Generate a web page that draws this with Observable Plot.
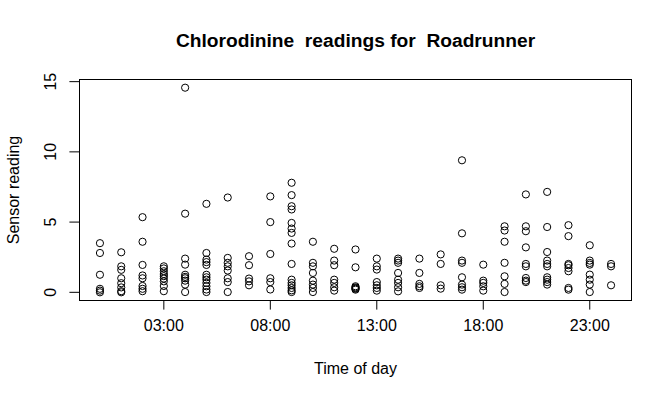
<!DOCTYPE html>
<html>
<head>
<meta charset="utf-8">
<script src="https://cdn.jsdelivr.net/npm/d3@7"></script>
<script src="https://cdn.jsdelivr.net/npm/@observablehq/plot@0.6"></script>
<style>
  html, body { margin: 0; padding: 0; background: #fff; }
  svg text { white-space: pre; }
</style>
</head>
<body>
<div id="chart"></div>
<script>
const title = "Chlorodinine  readings for  Roadrunner";
const xLabel = "Time of day";
const yLabel = "Sensor reading";
const xTicks = [3, 8, 13, 18, 23];
const xTickLabels = ["03:00", "08:00", "13:00", "18:00", "23:00"];
const yTicks = [0, 5, 10, 15];

const hours = [0, 1, 2, 3, 4, 5, 6, 7, 8, 9, 10, 11, 12, 13, 14, 15, 16, 17, 18, 19, 20, 21, 22, 23, 24];
const readings = [
  [3.5, 2.8, 1.25, 0.25, 0.12, 0.0],
  [2.85, 1.85, 1.6, 1.0, 0.65, 0.35, 0.08, 0.0],
  [5.35, 3.6, 1.95, 1.2, 1.0, 0.45, 0.25, 0.08],
  [1.85, 1.7, 1.5, 1.3, 1.15, 0.98, 0.78, 0.45, 0.08],
  [14.57, 5.6, 2.4, 1.97, 1.25, 1.1, 1.0, 0.83, 0.55, 0.02],
  [6.3, 2.8, 2.33, 2.15, 1.95, 1.25, 1.07, 0.9, 0.67, 0.43, 0.2, 0.02],
  [6.75, 2.45, 2.1, 1.85, 1.55, 1.0, 0.73, 0.02],
  [2.57, 1.93, 0.98, 0.78, 0.5],
  [6.83, 5.0, 2.73, 1.0, 0.73, 0.2],
  [7.8, 6.92, 6.13, 5.9, 4.94, 4.54, 4.23, 3.47, 2.02, 0.9, 0.67, 0.5, 0.31, 0.14, 0.02],
  [3.6, 2.1, 1.85, 1.38, 0.83, 0.55, 0.31, 0.02],
  [3.1, 2.26, 1.93, 0.9, 0.67, 0.36, 0.12],
  [3.05, 1.78, 0.43, 0.35, 0.3, 0.25, 0.19],
  [2.4, 1.85, 1.62, 0.73, 0.5, 0.31, 0.12],
  [2.4, 2.26, 2.1, 1.38, 0.9, 0.67, 0.36, 0.07],
  [2.4, 1.38, 0.6, 0.43, 0.31],
  [2.7, 2.02, 0.5, 0.26],
  [9.4, 4.2, 2.26, 2.1, 1.07, 0.55, 0.36, 0.19],
  [1.97, 0.83, 0.67, 0.43, 0.12],
  [4.7, 4.4, 3.6, 2.1, 1.14, 0.6, 0.02],
  [6.97, 4.7, 4.35, 3.2, 2.02, 1.85, 1.02, 0.83, 0.73],
  [7.15, 4.65, 2.87, 2.26, 2.02, 1.85, 1.07, 0.9, 0.73, 0.55],
  [4.78, 4.0, 2.02, 1.93, 1.73, 1.5, 0.31, 0.19],
  [3.35, 2.26, 2.09, 1.97, 1.26, 0.9, 0.55, 0.02],
  [2.02, 1.85, 0.5]
];

const data = hours.flatMap((h, i) => readings[i].map(v => ({hour: h, value: v})));

function pad(ext) { const r = ext[1] - ext[0]; return [ext[0] - 0.04 * r, ext[1] + 0.04 * r]; }
const xDomain = pad(d3.extent(data, d => d.hour));
const yDomain = pad(d3.extent(data, d => d.value));

const font = "'Liberation Sans', Arial, Helvetica, sans-serif";

const chart = Plot.plot({
  width: 671,
  height: 398,
  marginLeft: 79,
  marginRight: 40,
  marginTop: 79,
  marginBottom: 98,
  style: {fontFamily: font, fontSize: "16px", background: "#fff", color: "#000"},
  x: {domain: xDomain},
  y: {domain: yDomain},
  marks: [
    Plot.frame({stroke: "#000", strokeWidth: 1}),
    Plot.dot(data, {x: "hour", y: "value", r: 3.6, stroke: "#000", strokeWidth: 1, fill: "none"}),
    Plot.axisX({ticks: xTicks, tickFormat: (d) => xTickLabels[xTicks.indexOf(d)], tickSize: 9.6, tickPadding: 10, fontSize: 16, label: null, stroke: "#000"}),
    Plot.axisY({ticks: yTicks, tickFormat: () => "", tickSize: 9.6, label: null, stroke: "#000"}),
    Plot.text(yTicks, {y: d => d, text: d => String(d), frameAnchor: "left", dx: -29, rotate: -90, textAnchor: "middle", lineAnchor: "middle", fontSize: 16, fill: "#000"}),
    Plot.text([yLabel], {text: d => d, frameAnchor: "left", dx: -66, rotate: -90, textAnchor: "middle", lineAnchor: "middle", fontSize: 16, fill: "#000"}),
    Plot.text([xLabel], {text: d => d, frameAnchor: "bottom", dy: 68, textAnchor: "middle", lineAnchor: "middle", fontSize: 16, fill: "#000"}),
    Plot.text([title], {text: d => d, frameAnchor: "top", dy: -39, textAnchor: "middle", lineAnchor: "middle", fontSize: 19.2, fontWeight: "bold", fill: "#000"})
  ]
});
document.getElementById("chart").appendChild(chart);
</script>
</body>
</html>
